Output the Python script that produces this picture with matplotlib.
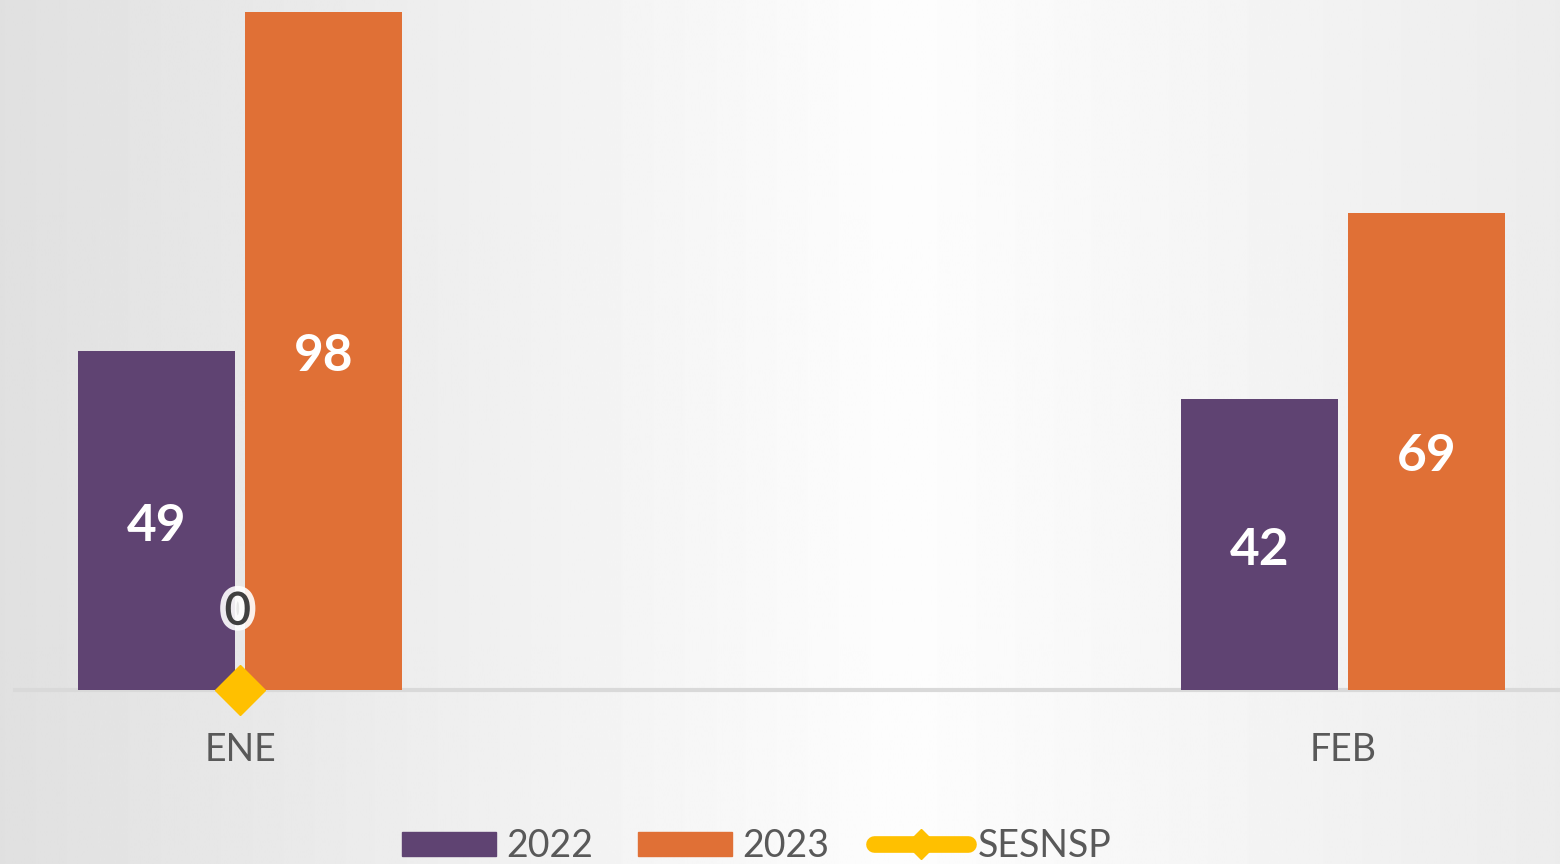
import numpy as np
import matplotlib.pyplot as plt
from matplotlib.patches import Patch
from matplotlib.lines import Line2D
import matplotlib.patheffects as pe

## chart data
months = ['ENE', 'FEB']
v2022 = [49, 42]
v2023 = [98, 69]
sesnsp = [0]

c2022 = '#5f4372'
c2023 = '#e07036'
cses = '#ffc000'

plt.rcParams['font.family'] = ['Lato', 'DejaVu Sans']

fig = plt.figure(figsize=(15.6, 8.64), dpi=100)

## background: soft horizontal gradient, brightest a bit right of centre
bg = fig.add_axes([0, 0, 1, 1])
xs = np.linspace(0, 1560, 800)
shade = np.interp(xs, [0, 900, 1560], [224, 253, 236]) / 255.0
img = np.tile(shade, (2, 1))
bg.imshow(img, cmap='gray', vmin=0, vmax=1, aspect='auto', extent=[0, 1, 0, 1])
bg.set_axis_off()

## main axes: baseline at 690 px, right edge of figure cuts the plot
ax = fig.add_axes([15 / 1560, 1 - 690 / 864, 1 - 15 / 1560, 690 / 864])
ax.patch.set_alpha(0)
ax.set_xlim((15 - 240) / 1103, (1560 - 240) / 1103)
ax.set_ylim(0, 690 / (678 / 98))

x = np.arange(len(months))
w = 157 / 1103
off = 83.5 / 1103
b1 = ax.bar(x - off, v2022, w, color=c2022, zorder=2)
b2 = ax.bar(x + off, v2023, w, color=c2023, zorder=2)

for bars in (b1, b2):
    for r in bars:
        ax.text(r.get_x() + r.get_width() / 2, r.get_height() / 2 - 0.8, str(int(r.get_height())),
                ha='center', va='center', color='white', fontsize=37, fontweight='bold', zorder=3)

ax.plot(x[:len(sesnsp)], sesnsp, color=cses, lw=8, marker='D', ms=25,
        clip_on=False, zorder=4)
for i, v in enumerate(sesnsp):
    ax.text(x[i] - 0.002, v + 11.3, str(v), ha='center', va='center', fontsize=33,
            color='#404040', fontweight='semibold', zorder=5,
            path_effects=[pe.withStroke(linewidth=8, foreground='white', alpha=0.9)])

ax.axhline(0, color='#d9d9d9', lw=3, zorder=1, clip_on=False)
for s in ax.spines.values():
    s.set_visible(False)
ax.set_yticks([])
ax.set_xticks(x)
ax.set_xticklabels(months, fontsize=27, color='#595959')
ax.tick_params(axis='x', length=0, pad=30)

handles = [Patch(color=c2022, label='2022'),
           Patch(color=c2023, label='2023'),
           Line2D([0], [0], color=cses, lw=12, marker='D', ms=15, solid_capstyle='round',
                  label='SESNSP')]
fig.legend(handles=handles, loc='center', bbox_to_anchor=(757 / 1560, 18 / 864), ncol=3,
           frameon=False, fontsize=27, labelcolor='#595959', handlelength=2.5,
           handleheight=0.62, handletextpad=0.27, columnspacing=1.2)

fig.savefig('out.png', dpi=100)
